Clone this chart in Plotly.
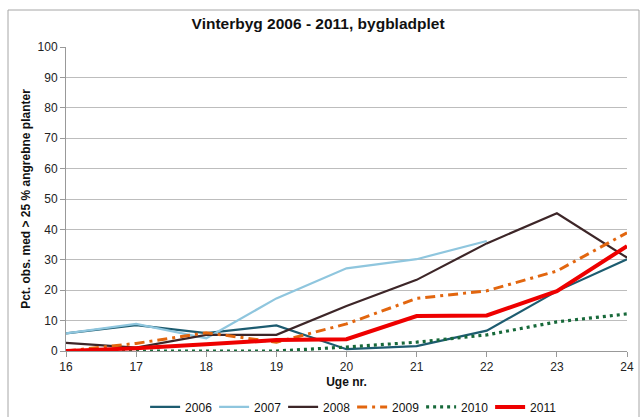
import plotly.graph_objects as go

weeks = [16, 17, 18, 19, 20, 21, 22, 23, 24]
years = ["2006", "2007", "2008", "2009", "2010", "2011"]
v2006 = [5.8, 8.5, 5.9, 8.4, 0.6, 1.6, 6.7, 19.7, 30.2]
v2007 = [5.8, 8.9, 4.2, 17.3, 27.2, 30.2, 36.2, None, None]
v2008 = [2.7, 1.1, 5.3, 5.3, 14.8, 23.4, 35.4, 45.3, 30.7]
v2009 = [0.0, 2.5, 6.0, 2.9, 8.9, 17.3, 19.8, 26.3, 38.9]
v2010 = [0.0, 0.0, 0.0, 0.0, 1.3, 2.9, 5.3, 9.6, 12.2]
v2011 = [0.0, 0.9, 2.2, 3.6, 3.9, 11.5, 11.7, 19.7, 34.5]
values = [v2006, v2007, v2008, v2009, v2010, v2011]

colors = ["#1D5C70", "#8FC6DE", "#3D2628", "#E2660F", "#17693A", "#EE0000"]
widths = [2.2, 2.2, 2.2, 3, 3.2, 4]
dashes = ["solid", "solid", "solid", "10px,5px,3px,5px", "3px,4px", "solid"]

fig = go.Figure()
for name, vals, c, w, d in zip(years, values, colors, widths, dashes):
    fig.add_trace(go.Scatter(x=weeks, y=vals, name=name, mode="lines",
                             line=dict(color=c, width=w, dash=d),
                             connectgaps=False))

font = "Liberation Sans, Arial, sans-serif"
fig.update_layout(
    width=640, height=417,
    margin=dict(l=66, r=13, t=47, b=66, autoexpand=False),
    paper_bgcolor="white", plot_bgcolor="white",
    font=dict(family=font, size=12, color="#222"),
    title=dict(text="<b>Vinterbyg 2006 - 2011, bygbladplet</b>",
               x=0.497, xanchor="center", y=0.944, yanchor="middle",
               font=dict(size=15.5, color="#111")),
    showlegend=True,
    legend=dict(orientation="h", x=0.51, xanchor="center", y=-0.184, yanchor="middle",
                entrywidth=24, entrywidthmode="pixels",
                font=dict(size=12, color="#111"), itemwidth=30,
                tracegroupgap=0),
    xaxis=dict(range=[16, 24], tickmode="array", tickvals=weeks,
               showgrid=False, zeroline=False,
               showline=True, linecolor="#999", linewidth=1,
               ticks="outside", ticklen=5, tickcolor="#999",
               tickfont=dict(size=12, color="#222"),
               title=dict(text="<b>Uge nr.</b>", font=dict(size=12, color="#111"),
                          standoff=4)),
    yaxis=dict(range=[0, 100], tickmode="linear", tick0=0, dtick=10,
               showgrid=True, gridcolor="#BDBDBD", gridwidth=1, zeroline=False,
               showline=True, linecolor="#999", linewidth=1,
               ticks="outside", ticklen=5, tickcolor="#999",
               tickfont=dict(size=12, color="#222"),
               title=dict(text="<b>Pct. obs. med > 25 % angrebne planter</b>",
                          font=dict(size=12, color="#111"), standoff=4)),
    shapes=[dict(type="rect", xref="paper", yref="paper",
                 x0=(8 - 66) / 561, x1=(639 - 66) / 561,
                 y0=(351 - 425) / 304, y1=(351 - 10) / 304,
                 line=dict(color="#A6A6A6", width=1), fillcolor="rgba(0,0,0,0)",
                 layer="below")],
)

fig.write_html("out.html", config={"displayModeBar": False},
               post_script="document.body.style.margin='0';document.body.style.overflow='hidden';")
